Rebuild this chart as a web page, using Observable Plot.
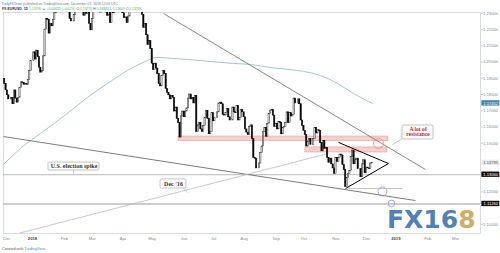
<!DOCTYPE html>
<html><head><meta charset="utf-8">
<script src="https://cdn.jsdelivr.net/npm/d3@7"></script>
<script src="https://cdn.jsdelivr.net/npm/@observablehq/plot@0.6"></script>
<style>
html,body{margin:0;padding:0;background:#fff;}
#wrap{position:relative;width:500px;height:253px;overflow:hidden;background:#fff;}
#logo{position:absolute;left:387px;top:207px;font:bold 25px "DejaVu Sans",sans-serif;line-height:25px;white-space:nowrap;}
#logo .b{color:#5282b3;}
#logo .g{color:#cfae68;}
</style></head><body>
<div id="wrap"><div id="logo"><span class="b">FX16</span><span class="g">8</span></div></div>
<script>
// Daily EUR/USD closes, one per trading day; index 0 = 1 Jan 2018, first bar = 4 Dec 2017 (index -20)
const firstIndex = -20;
const firstOpen = 1.1895;
const closes = [
 // Dec 2017
 1.1865,1.1825,1.1795,1.1770,1.1770, 1.1780,1.1740,1.1825,1.1775,1.1750, 1.1780,1.1840,1.1875,1.1870,1.1860, 1.1865,1.1860,1.1890,1.1945,1.2005,
 // Jan 2018
 1.2005,1.2060,1.2015,1.2070,1.2030, 1.1965,1.1935,1.1945,1.2035,1.2200, 1.2265,1.2260,1.2175,1.2235,1.2220, 1.2260,1.2300,1.2405,1.2395,1.2425, 1.2385,1.2410,1.2415,
 // Feb
 1.2510,1.2460, 1.2370,1.2380,1.2265,1.2250,1.2250, 1.2290,1.2350,1.2450,1.2505,1.2405, 1.2410,1.2335,1.2285,1.2330,1.2295, 1.2315,1.2235,1.2195,
 // Mar
 1.2265,1.2315, 1.2335,1.2405,1.2410,1.2310,1.2305, 1.2335,1.2390,1.2370,1.2305,1.2285, 1.2335,1.2240,1.2340,1.2300,1.2350, 1.2450,1.2400,1.2310,1.2320,1.2320,
 // Apr
 1.2300,1.2270,1.2275,1.2240,1.2280, 1.2320,1.2355,1.2370,1.2325,1.2330, 1.2380,1.2370,1.2375,1.2350,1.2290, 1.2210,1.2235,1.2165,1.2105,1.2130, 1.2080,
 // May
 1.1990,1.1950,1.1990,1.1960, 1.1925,1.1865,1.1850,1.1915,1.1945, 1.1925,1.1835,1.1810,1.1795,1.1770, 1.1790,1.1780,1.1695,1.1720,1.1650, 1.1625,1.1535,1.1665,1.1695,
 // Jun
 1.1660, 1.1695,1.1715,1.1775,1.1800,1.1770, 1.1780,1.1745,1.1790,1.1570,1.1610, 1.1625,1.1585,1.1570,1.1605,1.1655, 1.1700,1.1650,1.1555,1.1570,1.1685,
 // Jul
 1.1635,1.1655,1.1655,1.1690,1.1745, 1.1750,1.1740,1.1675,1.1670,1.1685, 1.1710,1.1660,1.1640,1.1640,1.1720, 1.1690,1.1685,1.1730,1.1640,1.1655, 1.1705,1.1690,
 // Aug
 1.1660,1.1585,1.1565, 1.1550,1.1600,1.1610,1.1525,1.1410, 1.1405,1.1345,1.1345,1.1375,1.1440, 1.1480,1.1570,1.1595,1.1540,1.1620, 1.1680,1.1700,1.1705,1.1670,1.1600,
 // Sep
 1.1620,1.1585,1.1630,1.1625,1.1555, 1.1595,1.1600,1.1625,1.1690,1.1625, 1.1685,1.1665,1.1675,1.1775,1.1745, 1.1745,1.1770,1.1740,1.1640,1.1605,
 // Oct
 1.1575,1.1550,1.1480,1.1510,1.1525, 1.1490,1.1490,1.1525,1.1595,1.1560, 1.1580,1.1575,1.1500,1.1450,1.1515, 1.1465,1.1470,1.1410,1.1380,1.1405, 1.1370,1.1345,1.1310,
 // Nov
 1.1410,1.1385, 1.1410,1.1430,1.1425,1.1365,1.1335, 1.1230,1.1285,1.1310,1.1330,1.1415, 1.1455,1.1370,1.1395,1.1405,1.1340, 1.1340,1.1290,1.1370,1.1395,1.1315,
 // Dec
 1.1350,1.1345,1.1340,1.1375,1.13795
];

// 200-day moving average, sampled (bar index, price)
const maIndex = [-20.8, -8.6, 5.7, 25, 39.5, 53.9, 68.2, 82.6, 88.4, 101.3, 120.7, 144.4, 156.6, 171, 190.4, 194.7, 206.9, 219.1, 230.6, 244.3];
const maValue = [1.1369, 1.1468, 1.1560, 1.1683, 1.1782, 1.1868, 1.1948, 1.2009, 1.2028, 1.2022, 1.2009, 1.1991, 1.1985, 1.1966, 1.1948, 1.1942, 1.1917, 1.1868, 1.1806, 1.1745];

// drawn trend lines (bar index / price endpoints)
const trendLines = [
  {x1: 94.1,  y1: 1.2299, x2: 282.3, y2: 1.1338, kind: "falling"},
  {x1: -20.8, y1: 1.1541, x2: 275.1, y2: 1.1147, kind: "lower"},
  {x1: -15.8, y1: 1.0932, x2: 212.6, y2: 1.1437, kind: "dec16"},
  {x1: 226.3, y1: 1.1221, x2: 265.8, y2: 1.1221, kind: "short"}
];
const triangle = [
  {x1: 219.8, y1: 1.1505, x2: 255.7, y2: 1.1375},
  {x1: 224.9, y1: 1.1221, x2: 255.7, y2: 1.1375}
];
const levels = [1.1306, 1.1126];
const resistanceBands = [
  {x1: 104.9, x2: 255.7, y1: 1.1541, y2: 1.1514},
  {x1: 196.1, x2: 255.0, y1: 1.1474, y2: 1.1443}
];
const pinkCircle = [{i: 248.6, p: 1.1498}];
const blueCircleA = [{i: 251.4, p: 1.1203}];
const blueCircleB = [{i: 257.9, p: 1.1129}];

// annotation callouts
const callouts = [
  {x1: 11.5, x2: 48.1, y1: 1.1381, y2: 1.1332, tx: 29.8, ty: 1.1357, text: "U.S. election spike", px1: 29.5, py1: 1.1332, px2: 29.5, py2: 1.1313},
  {x1: 92.0, x2: 110.6, y1: 1.1277, y2: 1.1221, tx: 101.3, ty: 1.1249, text: "Dec '16", px1: 108.5, py1: 1.1221, px2: 111.4, py2: 1.1197}
];
const resistBox = [{x1: 265.8, x2: 288.1, y1: 1.1609, y2: 1.1523, px1: 265.8, py1: 1.1529, px2: 258.6, py2: 1.1492}];
const resistText = [{tx: 277.0, ty: 1.1585, text: "A lot of"}, {tx: 277.0, ty: 1.1553, text: "resistance"}];

// axes
const monthTicks = [23, 43, 65, 86, 109, 130, 152, 175, 195, 218, 240, 284, 304];
const monthLabels = ["Feb","Mar","Apr","May","Jun","Jul","Aug","Sep","Oct","Nov","Dec","Feb","Mar"];
const yearTicks = [0, 261];
const yearLabels = ["2018", "2019"];
const firstMonth = [{i: -21, text: "Dec"}];
const priceTicks = [1.10, 1.12, 1.15, 1.16, 1.17, 1.18, 1.19, 1.20, 1.21, 1.22, 1.23];

// right-axis price tags
const tagValues = [1.17452, 1.13795, 1.1306, 1.1126];
const tagLabels = ["1.17452", "1.13795", "1.13060", "1.11260"];
const tagFills = ["#3f86a8", "#ececec", "#111111", "#111111"];
const tagText = ["#ffffff", "#555555", "#ffffff", "#ffffff"];

const xDomain = [-20.83, 321.84];
const yDomain = [1.0944, 1.2305];

const bars = closes.map((c, k) => ({i: firstIndex + k, o: k === 0 ? firstOpen : closes[k - 1], c}));
const ma = maIndex.map((i, k) => ({i, p: maValue[k]}));
const monthMap = new Map(monthTicks.map((t, k) => [t, monthLabels[k]]));
const yearMap = new Map(yearTicks.map((t, k) => [t, yearLabels[k]]));
const tags = tagValues.map((p, k) => ({p, label: tagLabels[k], fill: tagFills[k], color: tagText[k]}));
const tagHalf = 0.00165, tagX1 = 322.8, tagX2 = 335.7, tagXm = 329.2;

const trendStyle = {falling: ["#6a6a6a", 0.8], lower: ["#5a5a5a", 0.8], dec16: ["#bdbdbd", 0.8], short: ["#a8a8a8", 0.7]};

const chart = Plot.plot({
  width: 500, height: 253,
  marginTop: 12, marginBottom: 20, marginLeft: 3, marginRight: 20,
  x: {type: "linear", domain: xDomain},
  y: {type: "linear", domain: yDomain},
  style: {fontFamily: "'Liberation Sans', Arial, sans-serif", fontSize: "4.2px", color: "#8a8a8a", background: "transparent", overflow: "visible"},
  marks: [
    Plot.frame({stroke: "#d4d4d4", strokeWidth: 0.8}),
    Plot.ruleY(levels.slice(0,1), {stroke: "#a9a9a9", strokeWidth: 0.8}),
    Plot.ruleY(levels.slice(1), {stroke: "#bdbdbd", strokeWidth: 1.4}),
    Plot.rect(resistanceBands, {x1: "x1", x2: "x2", y1: "y1", y2: "y2", fill: "#f6c3c3", fillOpacity: 0.8, stroke: "#e59a9a", strokeWidth: 0.6}),
    Plot.line(ma, {x: "i", y: "p", curve: "monotone-x", stroke: "#a6c8ce", strokeWidth: 1, clip: true}),
    ...trendLines.map(t => Plot.link([t], {x1: "x1", y1: "y1", x2: "x2", y2: "y2", stroke: trendStyle[t.kind][0], strokeWidth: trendStyle[t.kind][1], clip: true})),
    Plot.rect(bars, {filter: d => d.c >= d.o, x1: d => d.i - 0.45, x2: d => d.i + 0.45, y1: "o", y2: "c", fill: "#ffffff", stroke: "#2a2a2a", strokeWidth: 0.55, clip: true}),
    Plot.rect(bars, {filter: d => d.c < d.o, x1: d => d.i - 0.45, x2: d => d.i + 0.45, y1: "o", y2: "c", fill: "#000000", stroke: "#000000", strokeWidth: 0.55, clip: true}),
    Plot.link(triangle, {x1: "x1", y1: "y1", x2: "x2", y2: "y2", stroke: "#000", strokeWidth: 1}),
    Plot.dot(pinkCircle, {x: "i", y: "p", r: 5, stroke: "#e08c8c", strokeWidth: 0.8, fill: "none"}),
    Plot.dot(blueCircleA, {x: "i", y: "p", r: 4.5, stroke: "#8c93d6", strokeWidth: 0.8, fill: "none"}),
    Plot.dot(blueCircleB, {x: "i", y: "p", r: 3.3, stroke: "#8c93d6", strokeWidth: 0.8, fill: "none"}),
    // callouts
    Plot.link(callouts, {x1: "px1", y1: "py1", x2: "px2", y2: "py2", stroke: "#9a9a9a", strokeWidth: 0.6}),
    Plot.rect(callouts, {x1: "x1", x2: "x2", y1: "y1", y2: "y2", fill: "#fff", stroke: "#9a9a9a", strokeWidth: 0.6, rx: 1.5}),
    Plot.text(callouts, {x: "tx", y: "ty", text: "text", fontFamily: "'Liberation Serif', serif", fontWeight: "bold", fontSize: 6, fill: "#333"}),
    Plot.link(resistBox, {x1: "px1", y1: "py1", x2: "px2", y2: "py2", stroke: "#9a9a9a", strokeWidth: 0.6}),
    Plot.rect(resistBox, {x1: "x1", x2: "x2", y1: "y1", y2: "y2", fill: "#fff", stroke: "#9a9a9a", strokeWidth: 0.6, rx: 1.5}),
    Plot.text(resistText, {x: "tx", y: "ty", text: "text", fontFamily: "'Liberation Serif', serif", fontWeight: "bold", fontSize: 5.6, fill: "#c81e1e"}),
    // axes
    Plot.axisY(priceTicks, {anchor: "right", tickFormat: d => d.toFixed(5), tickSize: 1.5, tickPadding: 1, fontSize: 4.2, stroke: "#bbb", fill: "#8a8a8a"}),
    Plot.axisX(monthTicks, {anchor: "bottom", tickFormat: d => monthMap.get(d), tickSize: 0, tickPadding: 4, fontSize: 4.2, fill: "#8a8a8a"}),
    Plot.axisX(yearTicks, {anchor: "bottom", tickFormat: d => yearMap.get(d), tickSize: 0, tickPadding: 4, fontSize: 4.2, fontWeight: "bold", fill: "#444"}),
    Plot.text(firstMonth, {x: "i", frameAnchor: "bottom", dy: 6, text: "text", textAnchor: "start", fontSize: 4.2, fill: "#8a8a8a"}),
    // price tags
    Plot.rect(tags, {x1: () => tagX1, x2: () => tagX2, y1: d => d.p - tagHalf, y2: d => d.p + tagHalf, fill: d => d.fill}),
    Plot.text(tags, {x: () => tagXm, y: "p", text: "label", fill: d => d.color, fontSize: 4.1})
  ]
});

const wrap = document.getElementById("wrap");
chart.style.position = "absolute";
chart.style.left = "0px";
chart.style.top = "0px";
wrap.insertBefore(chart, wrap.firstChild);

// header / footer text in the SVG (Plot's root sets text-anchor: middle, so reset it)
const svg = d3.select(chart);
function addLine(x, y, size, parts) {
  const t = svg.append("text").attr("x", x).attr("y", y)
    .attr("text-anchor", "start")
    .attr("font-size", size).attr("font-family", "'Liberation Sans', Arial, sans-serif");
  parts.forEach(([s, c, w]) => {
    const ts = t.append("tspan").attr("fill", c).text(s);
    if (w) ts.attr("font-weight", w);
  });
}
const green = "#4fae63";
addLine(2, 4.6, 3.4, [["DailyFXTeam", "#3b7dd0"], [" published on TradingView.com, December 07, 2018 12:00 UTC", "#777"]]);
addLine(2, 9.6, 3.4, [["FX:EURUSD, 1D ", "#333", "bold"], ["1.13795 \u25B2 +0.00025 (+0.02%)", green], [" O:", "#555"], ["1.13770", green], [" H:", "#555"], ["1.13843", green], [" L:", "#555"], ["1.13609", green], [" C:", "#555"], ["1.13795", green]]);
addLine(2, 250, 3.8, [["Created with ", "#555"], ["TradingView", "#3b8fd8"]]);
</script>
</body></html>
